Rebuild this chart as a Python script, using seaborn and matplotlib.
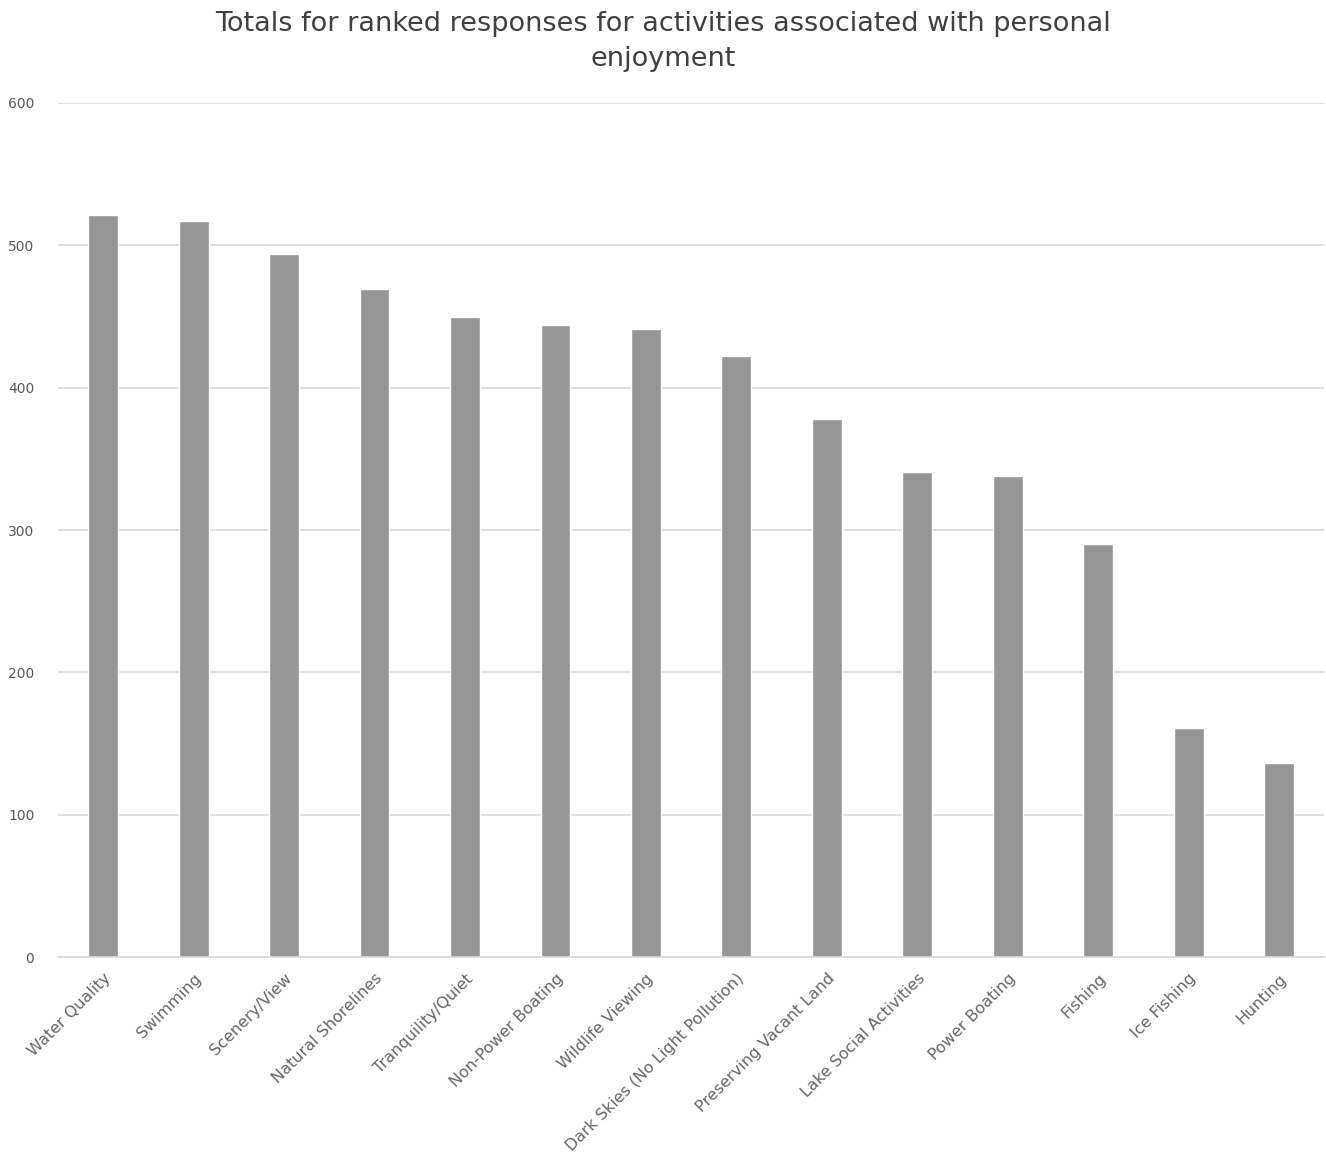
import pandas as pd
import matplotlib.pyplot as plt
import seaborn as sns

actividades = ['Water Quality', 'Swimming', 'Scenery/View', 'Natural Shorelines',
               'Tranquility/Quiet', 'Non-Power Boating', 'Wildlife Viewing',
               'Dark Skies (No Light Pollution)', 'Preserving Vacant Land',
               'Lake Social Activities', 'Power Boating', 'Fishing', 'Ice Fishing', 'Hunting']
totales = [521, 517, 494, 469, 450, 444, 441, 422, 378, 341, 338, 290, 161, 136]
yticks = [0, 100, 200, 300, 400, 500, 600]

datos = pd.DataFrame({'actividad': actividades, 'total': totales})

sns.set_style('white')
plt.rcParams['font.family'] = ['DejaVu Sans']

fig = plt.figure(figsize=(13.26, 11.69), dpi=100)
ax = fig.add_axes([0.0437, 0.1813, 0.955, 0.7306])

sns.barplot(data=datos, x='actividad', y='total', color='#969696', width=0.33,
            saturation=1, ax=ax)

ax.set_ylim(0, 600)
ax.set_xlim(-0.5, 13.5)
ax.set_yticks(yticks)
ax.set_yticklabels([str(v) for v in yticks], fontsize=10, color='#595959')
ax.yaxis.grid(True, color='#d9d9d9', linewidth=1.2)
ax.set_axisbelow(True)
for lado in ['top', 'right', 'left']:
    ax.spines[lado].set_visible(False)
ax.spines['bottom'].set_color('#d9d9d9')
ax.spines['bottom'].set_linewidth(1.2)
ax.tick_params(axis='both', length=0)
ax.tick_params(axis='y', pad=17)
ax.set_xticks(range(len(actividades)))
ax.set_xticklabels(actividades, rotation=45, ha='right', rotation_mode='anchor',
                   fontsize=11.5, color='#666666')
ax.tick_params(axis='x', pad=10)
ax.set_xlabel('')
ax.set_ylabel('')

fig.suptitle('Totals for ranked responses for activities associated with personal\nenjoyment',
             fontsize=19.5, color='#404040', y=0.991, linespacing=1.45)

plt.savefig('out.png', dpi=100)
plt.close()
